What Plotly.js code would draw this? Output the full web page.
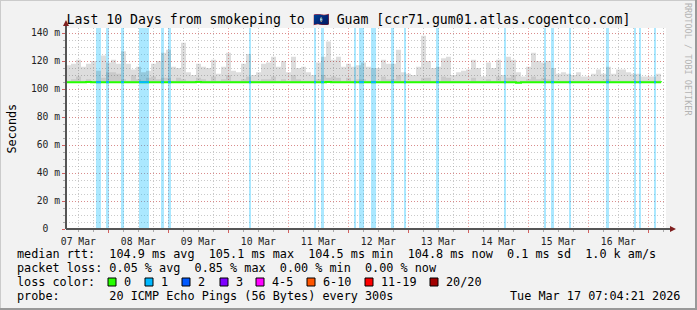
<!DOCTYPE html>
<html><head><meta charset="utf-8">
<script src="https://cdn.plot.ly/plotly-3.0.1.min.js"></script>
<style>html,body{margin:0;padding:0;background:#f2f2f2;}</style>
</head><body><div id="chart" style="width:697px;height:310px;"></div>
<script>
// ---------- data ----------
const titleText = 'Last 10 Days from smokeping to 🇬🇺 Guam [ccr71.gum01.atlas.cogentco.com]';
const rangeStart = '2026-03-07 07:04:21';
const rangeEnd = '2026-03-17 07:04:21';
const smokeStartTime = '2026-03-07 07:04:21';
const smokeStepHours = 2;

// highest ping per 2h bucket (ms)
const pingMax = [
117,118,121,116,118,120,113,124,119,121,
118,127,118,114,116,112,113,118,120,126,
128,116,115,133,112,110,118,116,115,121,
111,116,126,113,112,118,125,110,112,118,
119,123,116,120,112,123,115,116,112,110,
119,123,134,121,123,116,118,116,117,119,
116,115,115,121,118,118,128,112,111,110,
116,138,120,115,116,122,123,110,112,113,
114,121,115,109,119,115,121,110,123,121,
112,109,116,126,120,119,120,115,111,112,
111,110,112,109,109,111,114,111,116,111,
114,114,112,111,111,109,109,109,111,111];
// inner (denser) smoke band top (ms)
const pingMid = [
106,107,109,106,107,106,106,108,112,112,
111,107,106,110,107,106,108,109,107,108,
108,106,108,107,106,106,108,107,106,109,
106,107,110,106,106,107,109,106,106,107,
107,109,106,107,106,110,107,106,106,106,
107,110,108,109,108,106,108,106,107,107,
106,106,106,109,107,107,110,106,106,106,
106,108,108,106,106,109,108,106,106,106,
106,108,106,106,107,106,109,106,108,110,
106,106,107,109,107,108,107,106,106,106,
106,106,106,106,106,106,106,106,107,106,
106,106,106,106,106,106,106,106,106,106];
// lowest ping per bucket (ms)
const pingMin = [
104.4,104.4,104.3,104.4,104.4,104.5,104.4,104.4,104.3,104.4,
104.4,104.4,104.4,104.3,104.4,104.4,104.5,104.4,104.4,104.4,
104.3,104.4,104.4,104.4,104.4,104.3,104.4,104.4,104.4,104.5,
104.4,104.4,104.4,104.4,104.3,104.4,104.4,104.4,104.4,104.4,
104.4,104.3,104.4,104.4,104.4,104.4,104.5,104.4,104.4,104.3,
104.4,104.4,104.4,104.4,104.4,104.4,104.3,104.4,104.4,104.4,
104.4,104.4,104.5,104.4,104.4,104.3,104.4,104.4,104.4,104.4,
104.4,104.4,104.4,104.3,104.4,104.4,104.4,104.4,104.5,104.4,
104.4,104.4,104.3,104.4,104.4,104.4,104.4,104.4,104.4,104.3,
104.4,104.4,104.4,104.4,104.5,104.4,104.4,104.4,104.4,104.4,
104.3,104.4,104.4,104.4,104.4,104.4,104.4,104.3,104.4,104.4,
104.4,104.4,104.4,104.4,104.4,104.3,104.4,104.4,104.4,104.4];
// median rtt per bucket (ms)
const medianRtt = [
104.9,104.9,104.9,104.9,105.0,104.9,104.9,104.9,104.9,104.9,
104.9,104.9,104.8,104.9,104.9,104.9,104.9,104.9,104.9,104.9,
104.9,104.9,104.9,104.9,104.9,104.9,105.0,104.9,104.9,104.9,
104.9,104.9,104.9,104.9,104.9,104.9,104.9,104.8,104.9,104.9,
104.9,104.9,104.9,104.9,104.9,104.9,104.9,104.9,104.9,104.9,
104.9,104.9,105.1,104.9,104.9,104.9,104.9,104.9,104.9,104.9,
104.9,104.9,104.9,104.9,104.9,104.9,104.9,104.9,104.9,104.9,
104.9,104.9,104.9,104.9,104.9,104.9,104.9,104.9,104.9,104.9,
104.9,104.9,104.9,104.9,104.9,104.9,104.9,104.9,104.9,104.9,
104.5,104.9,104.9,104.9,104.9,104.9,104.9,104.9,104.9,104.9,
104.9,104.9,104.9,104.9,104.9,104.9,104.9,104.9,104.9,104.9,
104.9,104.9,104.9,104.9,104.9,104.9,104.9,104.9,104.9,104.8];

// packet-loss periods (loss colour 1)
const lossStart = ['2026-03-07 19:04','2026-03-07 23:04','2026-03-08 05:04','2026-03-08 12:16','2026-03-08 21:04','2026-03-08 23:52','2026-03-10 08:16','2026-03-11 10:16','2026-03-11 13:04','2026-03-12 02:16','2026-03-12 04:16','2026-03-12 09:04','2026-03-12 17:04','2026-03-12 22:16','2026-03-13 11:04','2026-03-14 14:16','2026-03-15 06:16','2026-03-15 09:04','2026-03-15 16:16','2026-03-16 07:04','2026-03-16 18:16','2026-03-16 20:16','2026-03-17 02:16'];
const lossEnd = ['2026-03-07 21:04','2026-03-08 00:16','2026-03-08 06:16','2026-03-08 16:16','2026-03-08 22:16','2026-03-09 01:04','2026-03-10 09:04','2026-03-11 11:04','2026-03-11 14:16','2026-03-12 03:04','2026-03-12 06:16','2026-03-12 11:04','2026-03-12 18:16','2026-03-12 23:04','2026-03-13 12:16','2026-03-14 15:04','2026-03-15 07:04','2026-03-15 10:16','2026-03-15 17:04','2026-03-16 08:16','2026-03-16 19:04','2026-03-16 21:04','2026-03-17 03:04'];

const yTickVals = [0,20,40,60,80,100,120,140];
const yTickText = ['0\u00a0\u00a0','20 m','40 m','60 m','80 m','100 m','120 m','140 m'];
const yMax = 143.6;

const lossLegendLabels = ['0','1','2','3','4-5','6-10','11-19','20/20'];
const lossLegendColors = ['#26ff00','#00b8ff','#0059ff','#7e00ff','#ff00ff','#ff5500','#ff0000','#a10000'];

const statMedian = 'median rtt:  104.9 ms avg  105.1 ms max  104.5 ms min  104.8 ms now  0.1 ms sd  1.0 k am/s';
const statLoss = 'packet loss: 0.05 % avg  0.85 % max  0.00 % min  0.00 % now';
const probeLabel = 'probe:       20 ICMP Echo Pings (56 Bytes) every 300s';
const dateLabel = 'Tue Mar 17 07:04:21 2026';

// ---------- helpers ----------
const toMs = s => Date.parse(s.replace(' ', 'T') + (s.length === 16 ? ':00' : '') + 'Z');
const fmt = ms => new Date(ms).toISOString().slice(0, 19).replace('T', ' ');
const nbsp = s => s.replace(/ /g, '\u00a0');

const t0 = toMs(smokeStartTime);
const stepMs = smokeStepHours * 3600000;
const smokeX = pingMax.map((_, i) => fmt(t0 + i * stepMs));

const lossMid = lossStart.map((s, i) => fmt((toMs(s) + toMs(lossEnd[i])) / 2));
const lossWidth = lossStart.map((s, i) => toMs(lossEnd[i]) - toMs(s));

const segX = [], segY = [];
lossStart.forEach((s, i) => {
  const idx = Math.min(medianRtt.length - 1, Math.max(0, Math.floor((toMs(s) - t0) / stepMs)));
  segX.push(s, lossEnd[i], null);
  segY.push(medianRtt[idx], medianRtt[idx], null);
});

const MONO = 'DejaVu Sans Mono';
const traces = [
  {type: 'bar', x: lossMid, y: lossStart.map(() => yMax), width: lossWidth, base: 0,
   marker: {color: 'rgba(0,184,255,0.33)', line: {width: 0}}, hoverinfo: 'skip'},
  {type: 'scatter', mode: 'lines', x: smokeX, y: pingMin, line: {width: 0, shape: 'hv'}, hoverinfo: 'skip'},
  {type: 'scatter', mode: 'lines', x: smokeX, y: pingMax, line: {width: 0, shape: 'hv'}, fill: 'tonexty', fillcolor: 'rgba(0,0,0,0.135)', hoverinfo: 'skip'},
  {type: 'scatter', mode: 'lines', x: smokeX, y: pingMin, line: {width: 0, shape: 'hv'}, hoverinfo: 'skip'},
  {type: 'scatter', mode: 'lines', x: smokeX, y: pingMid, line: {width: 0, shape: 'hv'}, fill: 'tonexty', fillcolor: 'rgba(0,0,0,0.09)', hoverinfo: 'skip'},
  {type: 'scatter', mode: 'lines', x: smokeX, y: medianRtt, line: {width: 2, color: '#26ff00', shape: 'hv'}, hoverinfo: 'skip'},
  {type: 'scatter', mode: 'lines', x: segX, y: segY, line: {width: 2, color: '#00b8ff'}, connectgaps: false, hoverinfo: 'skip'}
];

// ---------- layout ----------
const W = 697, H = 310, L = 66, R = 31, T = 28, B = 81;
const pw = W - L - R, ph = H - T - B;
const px = x => (x - L) / pw;
const py = y => (H - B - y) / ph;

const shapes = [
  // axis lines
  {type: 'line', xref: 'paper', yref: 'paper', x0: px(66), x1: px(670), y0: py(229), y1: py(229), line: {color: '#555', width: 2}},
  {type: 'line', xref: 'paper', yref: 'paper', x0: px(66), x1: px(66), y0: py(229), y1: py(24), line: {color: '#555', width: 2}},
  // arrows
  {type: 'path', xref: 'paper', yref: 'paper', path: `M ${px(63)} ${py(26)} L ${px(69)} ${py(26)} L ${px(66)} ${py(20)} Z`, fillcolor: '#7f1f1f', line: {width: 0}},
  {type: 'path', xref: 'paper', yref: 'paper', path: `M ${px(670)} ${py(226)} L ${px(670)} ${py(232)} L ${px(676)} ${py(229)} Z`, fillcolor: '#7f1f1f', line: {width: 0}},
  // frame shading
  {type: 'line', xref: 'paper', yref: 'paper', x0: px(0), x1: px(697), y0: py(0.5), y1: py(0.5), line: {color: '#cbcbcb', width: 1}},
  {type: 'line', xref: 'paper', yref: 'paper', x0: px(0.5), x1: px(0.5), y0: py(0), y1: py(310), line: {color: '#cbcbcb', width: 1}},
  {type: 'line', xref: 'paper', yref: 'paper', x0: px(0), x1: px(697), y0: py(309), y1: py(309), line: {color: '#999', width: 2}},
  {type: 'line', xref: 'paper', yref: 'paper', x0: px(696), x1: px(696), y0: py(0), y1: py(310), line: {color: '#999', width: 2}}
];

const legFont = {family: MONO, size: 11.8, color: '#000'};
const annotations = [
  {xref: 'paper', yref: 'paper', x: px(11), y: 0.5, text: 'Seconds', textangle: -90, showarrow: false, xanchor: 'center', yanchor: 'middle', font: legFont},
  {xref: 'paper', yref: 'paper', x: px(688), y: py(59), text: nbsp('RRDTOOL / TOBI OETIKER'), textangle: 90, showarrow: false, xanchor: 'center', yanchor: 'middle', font: {family: MONO, size: 8.5, color: '#b4b4b4'}},
  {xref: 'paper', yref: 'paper', x: px(15), y: py(254), text: nbsp(statMedian), showarrow: false, xanchor: 'left', yanchor: 'middle', font: legFont},
  {xref: 'paper', yref: 'paper', x: px(15), y: py(268), text: nbsp(statLoss), showarrow: false, xanchor: 'left', yanchor: 'middle', font: legFont},
  {xref: 'paper', yref: 'paper', x: px(15), y: py(282), text: nbsp('loss color:'), showarrow: false, xanchor: 'left', yanchor: 'middle', font: legFont},
  {xref: 'paper', yref: 'paper', x: px(15), y: py(296), text: nbsp(probeLabel), showarrow: false, xanchor: 'left', yanchor: 'middle', font: legFont},
  {xref: 'paper', yref: 'paper', x: px(682), y: py(296), text: nbsp(dateLabel), showarrow: false, xanchor: 'right', yanchor: 'middle', font: legFont}
];
const boxX = [108, 145, 182, 220, 256, 307, 365, 430];
lossLegendLabels.forEach((lab, i) => {
  shapes.push({type: 'rect', xref: 'paper', yref: 'paper', x0: px(boxX[i]), x1: px(boxX[i] + 8), y0: py(286), y1: py(278),
    fillcolor: lossLegendColors[i], line: {color: '#000', width: 1}});
  annotations.push({xref: 'paper', yref: 'paper', x: px(boxX[i] + 14), y: py(282), text: lab, showarrow: false,
    xanchor: 'left', yanchor: 'middle', font: legFont});
});

const majorGrid = 'rgba(230,90,90,0.55)';
const minorGrid = 'rgba(150,150,150,0.5)';
const tickFont = {family: MONO, size: 9.7, color: '#222'};

const layout = {
  width: W, height: H,
  margin: {l: L, r: R, t: T, b: B, pad: 0},
  paper_bgcolor: '#f2f2f2', plot_bgcolor: '#ffffff',
  showlegend: false,
  bargap: 0,
  title: {text: titleText, font: {family: MONO, size: 13.2, color: '#000'}, x: 0.5, xref: 'container', xanchor: 'center', y: 1 - 19 / H, yref: 'container', yanchor: 'middle'},
  xaxis: {type: 'date', range: [rangeStart, rangeEnd], tick0: '2026-03-07', dtick: 86400000,
    tickformat: '%d %b', ticklabelmode: 'period', showgrid: true, gridcolor: majorGrid, griddash: '1px,2px', gridwidth: 1,
    ticks: 'outside', ticklen: 3, tickcolor: '#d06060', showline: false, zeroline: false, tickfont: tickFont,
    minor: {dtick: 21600000, showgrid: true, gridcolor: minorGrid, griddash: '1px,2px', ticks: 'outside', ticklen: 2, tickcolor: '#aaa'},
    fixedrange: true},
  yaxis: {range: [0, yMax], tickmode: 'array', tickvals: yTickVals, ticktext: yTickText,
    showgrid: true, gridcolor: majorGrid, griddash: '1px,2px', gridwidth: 1,
    ticks: 'outside', ticklen: 3, tickcolor: '#d06060', showline: false, zeroline: false, tickfont: tickFont,
    minor: {dtick: 5, showgrid: true, gridcolor: minorGrid, griddash: '1px,2px', ticks: 'outside', ticklen: 2, tickcolor: '#aaa'},
    fixedrange: true},
  shapes: shapes,
  annotations: annotations
};

Plotly.newPlot('chart', traces, layout, {staticPlot: true, displayModeBar: false});
</script>
</body></html>
